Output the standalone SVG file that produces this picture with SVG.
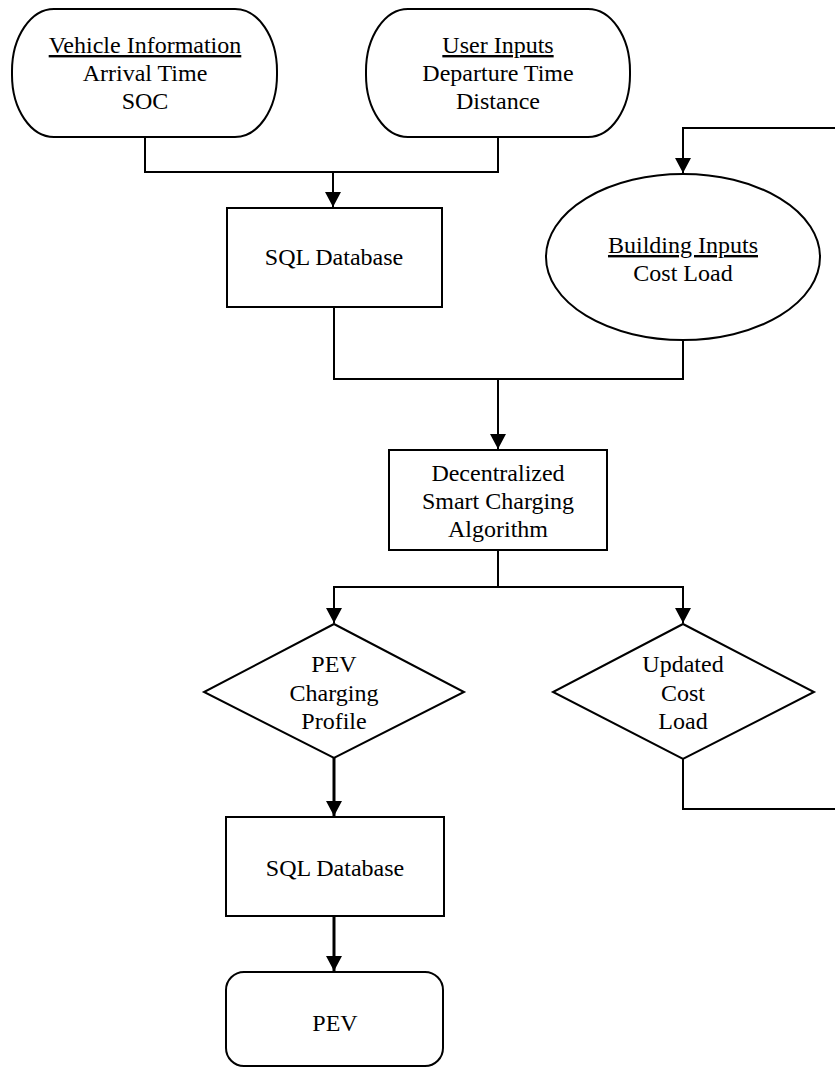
<svg xmlns="http://www.w3.org/2000/svg" width="835" height="1070" viewBox="0 0 835 1070">
<style>
.n{fill:#fff;stroke:#000;stroke-width:2}
.t{font-family:"Liberation Serif","Times New Roman",serif;font-size:24px;fill:#000;text-anchor:middle}
.u{text-decoration:underline}
.c{fill:none;stroke:#000;stroke-width:2}
.ct{fill:none;stroke:#000;stroke-width:3}
</style>
<defs>
<marker id="ah" markerUnits="userSpaceOnUse" markerWidth="18" markerHeight="18" refX="15" refY="8" orient="auto">
<path d="M0,0 L15,8 L0,16 Z" fill="#000"/>
</marker>
</defs>
<rect width="835" height="1070" fill="#fff"/>
<g id="connectors">
<path class="c" d="M145,137 V172 H498 V137"/>
<path class="c" d="M333,172 V207" marker-end="url(#ah)"/>
<path class="c" d="M835,128 H683 V173" marker-end="url(#ah)"/>
<path class="c" d="M334,307 V379 H683 V340"/>
<path class="c" d="M498,379 V449" marker-end="url(#ah)"/>
<path class="c" d="M498,550 V587 H334 V623" marker-end="url(#ah)"/>
<path class="c" d="M498,587 H683 V623" marker-end="url(#ah)"/>
<path class="ct" d="M334,758 V816" marker-end="url(#ah)"/>
<path class="c" d="M683,759 V809 H835"/>
<path class="ct" d="M334,916 V971" marker-end="url(#ah)"/>
</g>
<g id="vehicle">
<rect class="n" x="12" y="9" width="265" height="128" rx="42" ry="62"/>
<text class="t u" x="145" y="53">Vehicle Information</text>
<text class="t" x="145" y="81">Arrival Time</text>
<text class="t" x="145" y="109">SOC</text>
</g>
<g id="user">
<rect class="n" x="366" y="9" width="264" height="128" rx="42" ry="62"/>
<text class="t u" x="498" y="53">User Inputs</text>
<text class="t" x="498" y="81">Departure Time</text>
<text class="t" x="498" y="109">Distance</text>
</g>
<g id="sql1">
<rect class="n" x="227" y="208" width="215" height="99"/>
<text class="t" x="334" y="265">SQL Database</text>
</g>
<g id="building">
<ellipse class="n" cx="683" cy="257" rx="137" ry="83"/>
<text class="t u" x="683" y="253">Building Inputs</text>
<text class="t" x="683" y="281">Cost Load</text>
</g>
<g id="algorithm">
<rect class="n" x="389" y="450" width="218" height="100"/>
<text class="t" x="498" y="481">Decentralized</text>
<text class="t" x="498" y="509">Smart Charging</text>
<text class="t" x="498" y="537">Algorithm</text>
</g>
<g id="pevprofile">
<path class="n" d="M334,624 L464,692 L334,758 L204,692 Z"/>
<text class="t" x="334" y="672">PEV</text>
<text class="t" x="334" y="701">Charging</text>
<text class="t" x="334" y="729">Profile</text>
</g>
<g id="updated">
<path class="n" d="M683,624 L814,692 L683,759 L553,692 Z"/>
<text class="t" x="683" y="672">Updated</text>
<text class="t" x="683" y="701">Cost</text>
<text class="t" x="683" y="729">Load</text>
</g>
<g id="sql2">
<rect class="n" x="226" y="817" width="218" height="99"/>
<text class="t" x="335" y="876">SQL Database</text>
</g>
<g id="pev">
<rect class="n" x="226" y="972" width="217" height="94" rx="18" ry="18"/>
<text class="t" x="335" y="1031">PEV</text>
</g>
</svg>
